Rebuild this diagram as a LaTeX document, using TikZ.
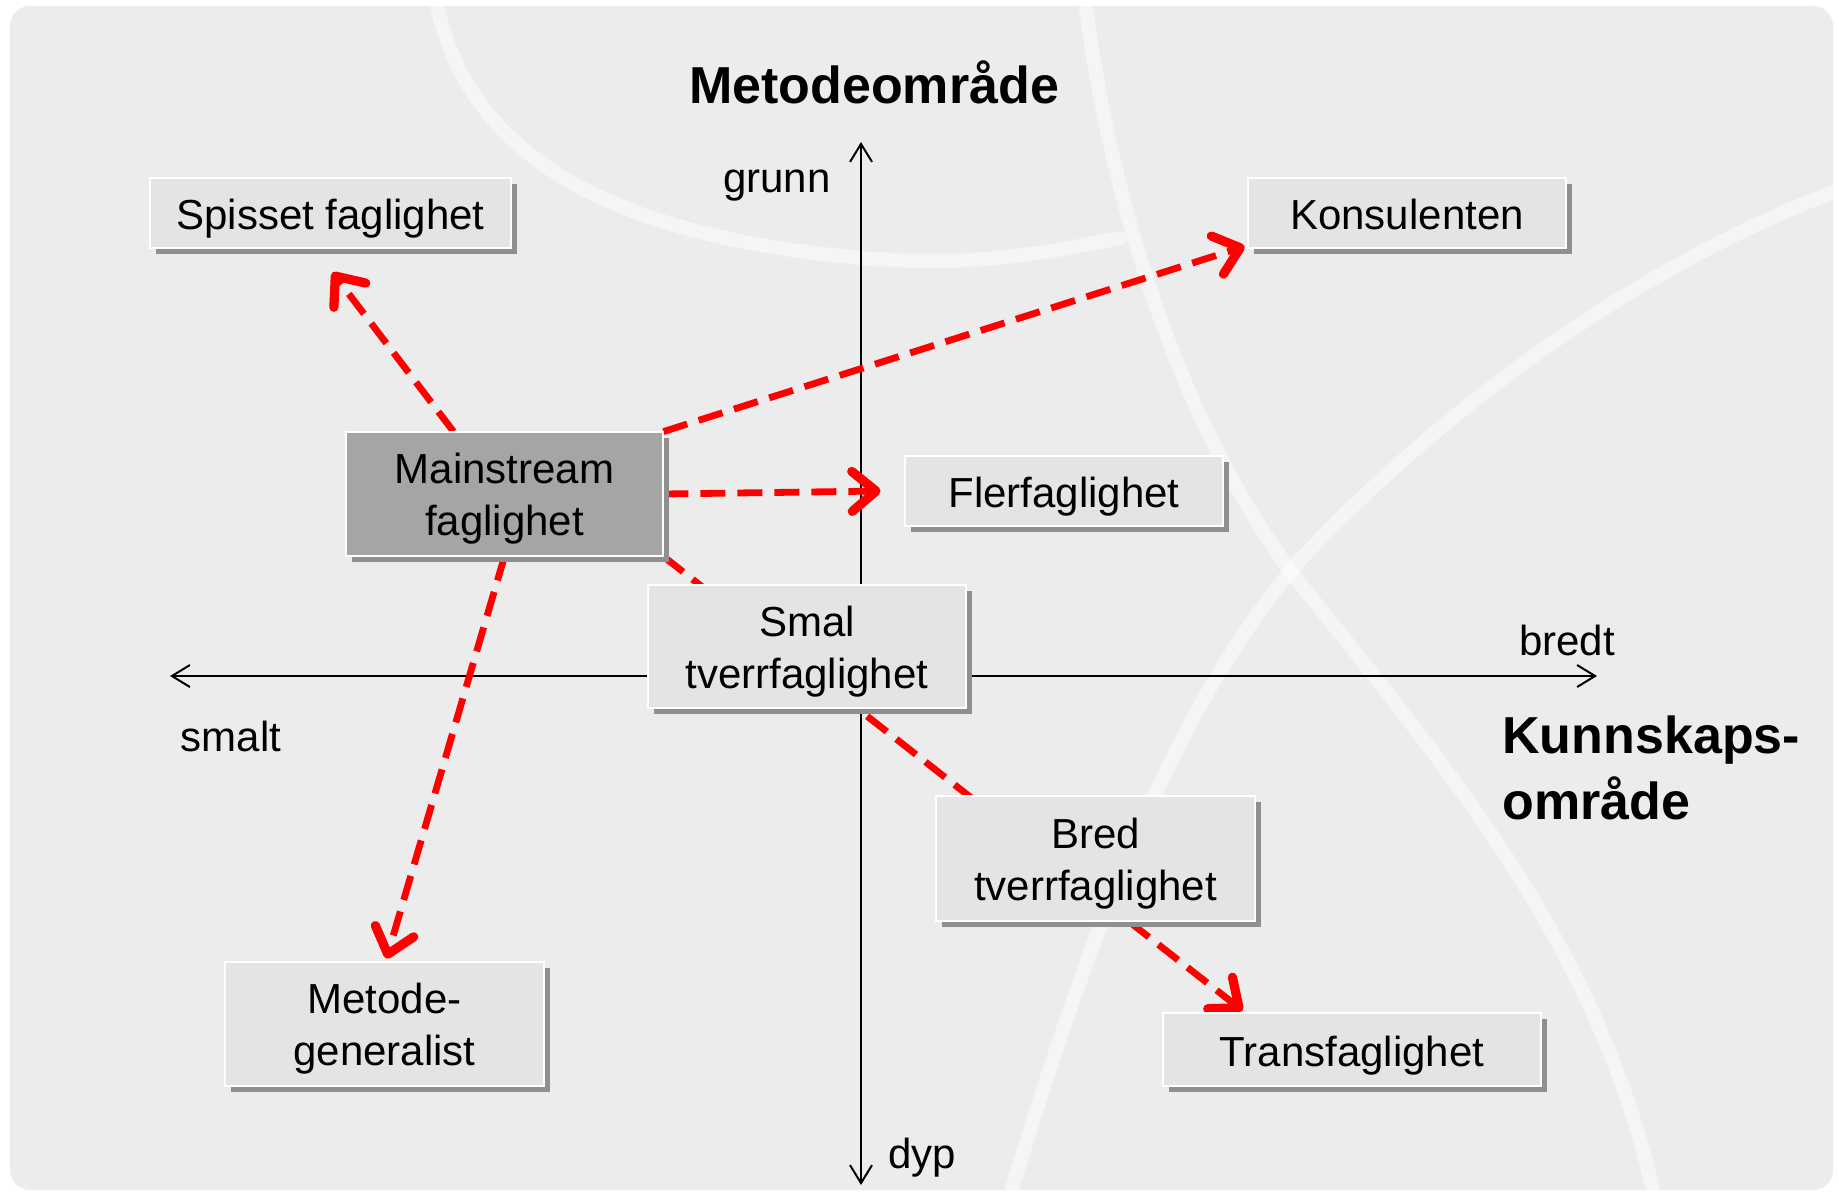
\documentclass[tikz,border=0pt]{standalone}
\usepackage{fontspec}
\setmainfont{Liberation Sans}
\usetikzlibrary{arrows.meta,calc,shadows}
\definecolor{bgpanel}{HTML}{ECECEC}
\definecolor{boxfill}{HTML}{E4E4E4}
\definecolor{boxdark}{HTML}{A5A5A5}
\definecolor{boxshade}{HTML}{8F8F8F}
\definecolor{linkred}{HTML}{FF0000}
\tikzset{
  slot/.style={inner sep=0pt},
  card/.style={draw=white, line width=1pt, fill=boxfill, inner sep=0pt,
    drop shadow={shadow xshift=3pt, shadow yshift=-3pt, fill=boxshade, opacity=1}},
  cardtext/.style={inner sep=0pt, align=center, font=\fontsize{21}{26}\selectfont},
  axisline/.style={line width=1pt, draw=black,
    {Straight Barb[length=9pt,width=11pt]}-{Straight Barb[length=9pt,width=11pt]}},
  link/.style={draw=linkred, line width=3.4pt, dash pattern=on 12.5pt off 6pt,
    -{Straight Barb[length=12pt,width=20pt,line width=4.6pt,round]}},
  axislabel/.style={anchor=base, inner sep=0pt, font=\fontsize{21}{26}\selectfont},
  title/.style={anchor=base, inner sep=0pt, font=\fontsize{26}{30}\selectfont\bfseries},
  streak/.style={draw=white, line width=7pt, opacity=.5, line cap=round},
}
\begin{document}
\begin{tikzpicture}[x=0.5pt, y=-0.5pt]
  % page and panel
  \useasboundingbox (0,0) rectangle (1839,1195);
  \fill[white] (0,0) rectangle (1839,1195);
  \fill[bgpanel, rounded corners=10pt] (10,6) rectangle (1833,1190);

  % soft light streaks in the backdrop
  \begin{scope}
    \clip[rounded corners=10pt] (10,6) rectangle (1833,1190);
    \draw[streak] (436,0) .. controls (465,150) and (600,235) .. (862,258)
                          .. controls (980,268) and (1060,250) .. (1120,238);
    \draw[streak] (1085,0) .. controls (1110,200) and (1180,430) .. (1302,586)
                          .. controls (1450,770) and (1600,950) .. (1654,1195);
    \draw[streak] (1010,1195) .. controls (1100,900) and (1180,700) .. (1300,560)
                          .. controls (1450,400) and (1650,260) .. (1839,190);
  \end{scope}

  % axes
  \coordinate (ytop) at (861,142);
  \coordinate (ybot) at (861,1185);
  \coordinate (xleft) at (170,676);
  \coordinate (xright) at (1597,676);
  \draw[axisline] (ybot) -- (ytop);
  \draw[axisline] (xleft) -- (xright);

  \node[title] (metode) at (874,103) {Metodeområde};
  \node[title, anchor=base west] (kunnskap) at (1502,753) {Kunnskaps-};
  \node[title, anchor=base west] (kunnskap2) at (1502,819) {område};
  \node[axislabel] (grunn) at (777,192) {grunn};
  \node[axislabel] (dyp) at (922,1168) {dyp};
  \node[axislabel] (bredt) at (1567,655) {bredt};
  \node[axislabel] (smalt) at (231,751) {smalt};

  % box outlines, used as link ends
  \node[slot, minimum width=180.5pt, minimum height=35pt]   (spisset) at (330.5,213) {};
  \node[slot, minimum width=159pt,   minimum height=35pt]   (kons)    at (1407,213) {};
  \node[slot, minimum width=158.5pt, minimum height=62pt]   (main)    at (504.5,494) {};
  \node[slot, minimum width=159pt,   minimum height=35pt]   (fler)    at (1064,491) {};
  \node[slot, minimum width=159pt,   minimum height=61.5pt] (smal)    at (807,646.5) {};
  \node[slot, minimum width=159.5pt, minimum height=62.5pt] (bred)    at (1095.5,858.5) {};
  \node[slot, minimum width=159.5pt, minimum height=62pt]   (gen)     at (384.5,1024) {};
  \node[slot, minimum width=189pt,   minimum height=36.5pt] (trans)   at (1352,1049.5) {};

  % dashed links out of the mainstream box
  \draw[link] ($(main.north)+(-51,0)$) -- ($(spisset.south)+(2,24)$);
  \draw[link] (main.north east) -- ($(kons.south west)+(-3,-2)$);
  \draw[link] (main.east) -- ($(fler.west)+(-24,0)$);
  \draw[link] (main.south east) -- ($(trans.north west)+(80,-2)$);
  \draw[link] (main.south) -- ($(gen.north)+(2,-3)$);

  % boxes drawn over the links
  \node[card, minimum width=180.5pt, minimum height=35pt]   at (spisset.center) {};
  \node[card, minimum width=159pt,   minimum height=35pt]   at (kons.center) {};
  \node[card, fill=boxdark, minimum width=158.5pt, minimum height=62pt] at (main.center) {};
  \node[card, minimum width=159pt,   minimum height=35pt]   at (fler.center) {};
  \node[card, minimum width=159pt,   minimum height=61.5pt] at (smal.center) {};
  \node[card, minimum width=159.5pt, minimum height=62.5pt] at (bred.center) {};
  \node[card, minimum width=159.5pt, minimum height=62pt]   at (gen.center) {};
  \node[card, minimum width=189pt,   minimum height=36.5pt] at (trans.center) {};

  % box texts
  \node[cardtext] (tSpisset) at ($(spisset.center)+(0,6)$) {Spisset faglighet};
  \node[cardtext, anchor=base] (tKons) at ($(kons.center)+(0,16.5)$) {Konsulenten};
  \node[cardtext] (tMain)    at ($(main.center)+(0,5)$)    {Mainstream\\faglighet};
  \node[cardtext] (tFler)    at ($(fler.center)+(0,6)$)    {Flerfaglighet};
  \node[cardtext] (tSmal)    at ($(smal.center)+(0,5)$)    {Smal\\tverrfaglighet};
  \node[cardtext] (tBred)    at ($(bred.center)+(0,5)$)    {Bred\\tverrfaglighet};
  \node[cardtext] (tGen)     at ($(gen.center)+(0,5)$)     {Metode-\\generalist};
  \node[cardtext] (tTrans)   at ($(trans.center)+(0,6)$)   {Transfaglighet};
\end{tikzpicture}
\end{document}
